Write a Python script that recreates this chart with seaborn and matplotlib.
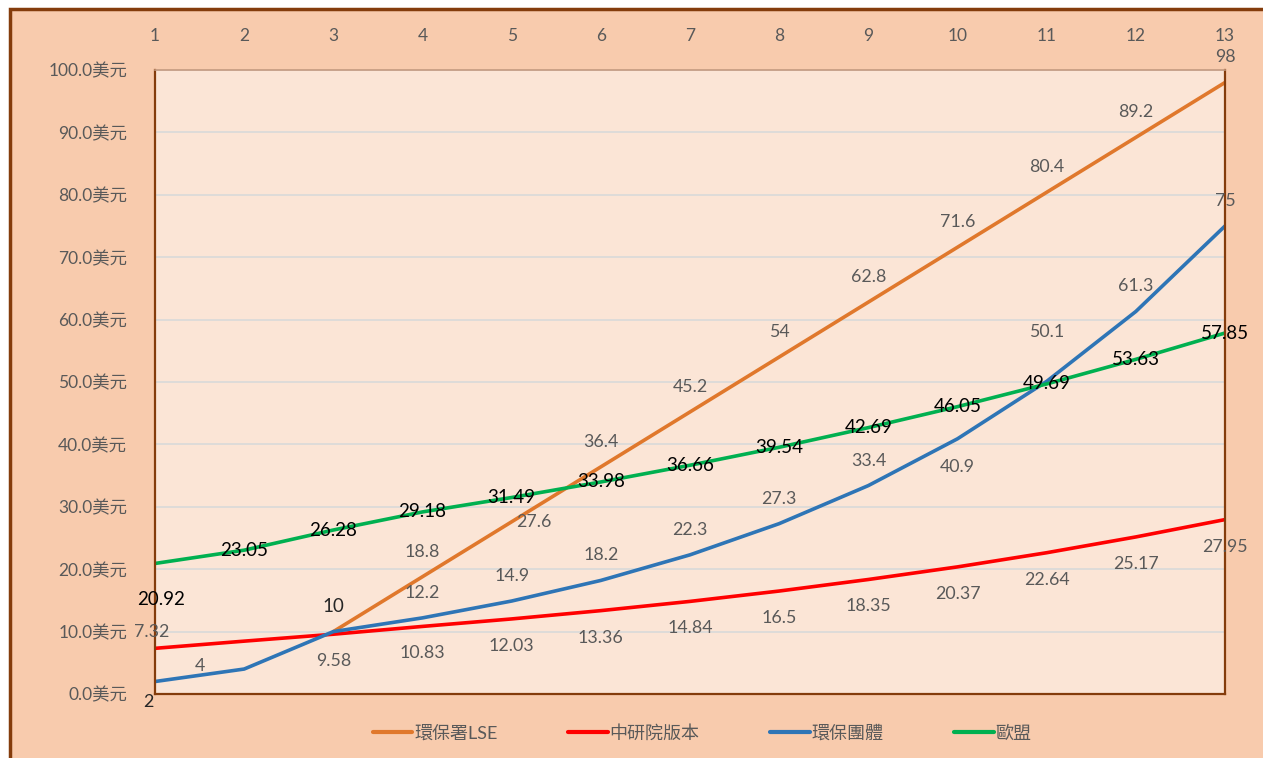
import matplotlib
matplotlib.use("Agg")
import matplotlib.pyplot as plt
import numpy as np
import pandas as pd
import seaborn as sns
from matplotlib.patches import Rectangle

# ---- data ----
YEARS = list(range(1, 14))
SERIES = ["環保署LSE", "中研院版本", "環保團體", "歐盟"]
LSE = [np.nan, np.nan, 10, 18.8, 27.6, 36.4, 45.2, 54, 62.8, 71.6, 80.4, 89.2, 98]
ACADEMIA = [7.32, 8.47, 9.58, 10.83, 12.03, 13.36, 14.84, 16.5, 18.35, 20.37, 22.64, 25.17, 27.95]
NGO = [2, 4, 10, 12.2, 14.9, 18.2, 22.3, 27.3, 33.4, 40.9, 50.1, 61.3, 75]
EU = [20.92, 23.05, 26.28, 29.18, 31.49, 33.98, 36.66, 39.54, 42.69, 46.05, 49.69, 53.63, 57.85]
Y_TICKS = [0, 10, 20, 30, 40, 50, 60, 70, 80, 90, 100]

COLORS = ["#E0782C", "#FF0000", "#2E75B6", "#00B050"]
FIG_BG = "#F8CBAD"
AX_BG = "#FBE5D6"
BROWN = "#843C0C"
GREY_TXT = "#595959"

sns.set_theme(style="white")
plt.rcParams["font.family"] = ["Lato", "Noto Sans CJK TC", "DejaVu Sans"]

df = pd.DataFrame({
    "x": YEARS * 4,
    "value": LSE + ACADEMIA + NGO + EU,
    "series": [s for s in SERIES for _ in YEARS],
})

fig = plt.figure(figsize=(12.63, 7.58), dpi=100, facecolor="white")
fig.patches.append(Rectangle((10 / 1263, -0.01), 1.02, 1 - 9 / 758 + 0.01,
                             transform=fig.transFigure, facecolor=FIG_BG,
                             edgecolor=BROWN, linewidth=2.5, zorder=-10))
ax = fig.add_axes([155 / 1263, 1 - 694 / 758, (1225 - 155) / 1263, (694 - 70) / 758])
ax.set_facecolor(AX_BG)

sns.lineplot(data=df, x="x", y="value", hue="series", hue_order=SERIES,
             palette=COLORS, linewidth=2.6, ax=ax, legend=True)

ax.set_xlim(1, 13)
ax.set_ylim(0, 100)
ax.set_xticks(YEARS)
ax.set_yticks(Y_TICKS)
ax.set_yticklabels([f"{v:.1f}美元" for v in Y_TICKS])
ax.xaxis.tick_top()
ax.tick_params(axis="x", length=0, pad=19, labelsize=12.5, labelcolor=GREY_TXT)
ax.tick_params(axis="y", length=0, pad=20, labelsize=12.5, labelcolor=GREY_TXT)
ax.set_xlabel("")
ax.set_ylabel("")
ax.yaxis.grid(True, color="#D9D9D9", linewidth=1.2)
ax.xaxis.grid(False)
for side in ["left", "bottom", "right"]:
    ax.spines[side].set_color(BROWN)
    ax.spines[side].set_linewidth(1.6)
ax.spines["top"].set_color("#C49A80")
ax.spines["top"].set_linewidth(1.2)

# ---- data labels (offsets in pixels) ----
label_style = {
    0: dict(off=(0, 25), color=GREY_TXT, size=12.8),
    1: dict(off=(0, -27), color=GREY_TXT, size=12.8),
    2: dict(off=(0, 25), color=GREY_TXT, size=12.8),
    3: dict(off=(0, 0), color="black", size=13.5),
}
overrides = {
    (0, 2): dict(off=(0, 25), color="#262626", size=13.5),
    (0, 4): dict(off=(22, 0)),
    (1, 0): dict(off=(-3, 16)),
    (1, 1): None,
    (2, 0): dict(off=(-7, -20), color="#262626", size=13),
    (2, 1): dict(off=(-44, 3)),
    (2, 2): None,
    (2, 9): dict(off=(0, -28)),
    (2, 10): dict(off=(0, 49)),
    (3, 0): dict(off=(6, -36), color="black", size=13.5),
}
for si, vals in enumerate([LSE, ACADEMIA, NGO, EU]):
    for xi, v in enumerate(vals):
        if np.isnan(v):
            continue
        st = dict(label_style[si])
        if (si, xi) in overrides:
            ov = overrides[(si, xi)]
            if ov is None:
                continue
            st.update(ov)
        ax.annotate(f"{v:g}", (YEARS[xi], v), xytext=st["off"],
                    textcoords="offset pixels", ha="center", va="center",
                    color=st["color"], fontsize=st["size"], annotation_clip=False,
                    zorder=5)

# ---- legend at bottom ----
handles, labels = ax.get_legend_handles_labels()
ax.get_legend().remove()
leg = fig.legend(handles, labels, loc="center", bbox_to_anchor=(702 / 1263, 25 / 758),
                 ncol=4, frameon=False, fontsize=13, handlelength=2.2,
                 handletextpad=0.1, columnspacing=3.9)
for t in leg.get_texts():
    t.set_color(GREY_TXT)
for h in leg.get_lines():
    h.set_linewidth(3)

fig.savefig("out.png", dpi=100, facecolor=fig.get_facecolor())
